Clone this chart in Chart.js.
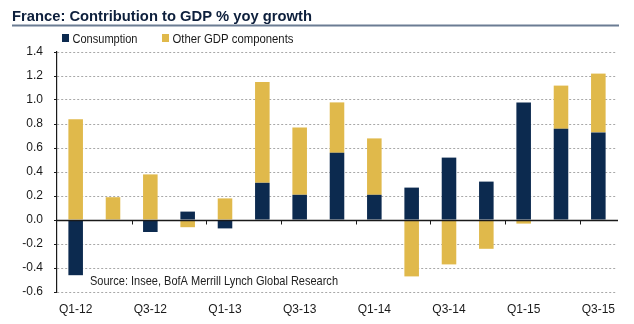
<!DOCTYPE html>
<html>
<head>
<meta charset="utf-8">
<script src="https://cdn.jsdelivr.net/npm/chart.js@4.4.0/dist/chart.umd.min.js"></script>
<style>
  html, body { margin: 0; padding: 0; background: #fff; }
  #wrap { width: 634px; height: 324px; }
</style>
</head>
<body>
<div id="wrap"><canvas id="gdp"></canvas></div>
<script>
// quarters on the x axis, only every other one gets a label
const quarters = ['Q1-12', 'Q2-12', 'Q3-12', 'Q4-12', 'Q1-13', 'Q2-13', 'Q3-13', 'Q4-13',
                  'Q1-14', 'Q2-14', 'Q3-14', 'Q4-14', 'Q1-15', 'Q2-15', 'Q3-15'];
// contributions to yoy GDP growth, pp
const consumption = [-0.46, 0.00, -0.10, 0.07, -0.07, 0.31, 0.21, 0.56,
                     0.21, 0.27, 0.52, 0.32, 0.98, 0.76, 0.73];
const otherComponents = [0.84, 0.19, 0.38, -0.06, 0.18, 0.84, 0.56, 0.42,
                         0.47, -0.47, -0.37, -0.24, -0.03, 0.36, 0.49];
const yTicks = [-0.6, -0.4, -0.2, 0.0, 0.2, 0.4, 0.6, 0.8, 1.0, 1.2, 1.4];

const TITLE = 'France: Contribution to GDP % yoy growth';
const SOURCE = 'Source: Insee, BofA Merrill Lynch Global Research';
const FONT = '"Liberation Sans", Arial, sans-serif';

const NAVY = '#0c2a4f';
const GOLD = '#e0b94b';

// text squeezed sideways to a given width (the house font is a narrow face)
function narrowText(ctx, text, x, y, width) {
  const w = ctx.measureText(text).width;
  ctx.save();
  ctx.translate(x, y);
  ctx.scale(width / w, 1);
  ctx.fillText(text, 0, 0);
  ctx.restore();
}

// title, underline, legend, zero line with its small ticks, source note
const decorations = {
  id: 'decorations',
  afterDraw(chart) {
    const { ctx, chartArea, scales, data } = chart;
    const x = scales.x, y = scales.y;
    ctx.save();
    ctx.textBaseline = 'alphabetic';

    ctx.fillStyle = '#0d1f3c';
    ctx.font = 'bold 15.5px ' + FONT;
    narrowText(ctx, TITLE, 12, 21, 300);

    ctx.strokeStyle = '#6b7c93';
    ctx.lineWidth = 1.8;
    ctx.beginPath();
    ctx.moveTo(12, 25.5);
    ctx.lineTo(619, 25.5);
    ctx.stroke();

    // legend
    const legendX = [62, 162];
    const legendW = [65, 121];
    ctx.font = '13px ' + FONT;
    data.datasets.forEach((ds, i) => {
      ctx.fillStyle = ds.backgroundColor;
      ctx.fillRect(legendX[i], 34, 7, 8);
      ctx.fillStyle = '#1a1a1a';
      narrowText(ctx, ds.label, legendX[i] + 10.5, 42.5, legendW[i]);
    });

    const y0 = Math.round(y.getPixelForValue(0)) + 0.5;
    ctx.strokeStyle = '#1a1a1a';
    ctx.lineWidth = 1.3;
    ctx.beginPath();
    ctx.moveTo(chartArea.left, y0);
    ctx.lineTo(chartArea.right + 1, y0);
    ctx.stroke();

    ctx.lineWidth = 1;
    ctx.beginPath();
    for (let i = 2; i < quarters.length; i += 2) {
      const xm = Math.round((x.getPixelForTick(i - 1) + x.getPixelForTick(i)) / 2) + 0.5;
      ctx.moveTo(xm, y0);
      ctx.lineTo(xm, y0 + 4);
    }
    ctx.stroke();

    ctx.fillStyle = '#222';
    ctx.font = '13.5px ' + FONT;
    narrowText(ctx, SOURCE, 90, 285, 248);
    ctx.restore();
  }
};

new Chart(document.getElementById('gdp'), {
  type: 'bar',
  data: {
    labels: quarters,
    datasets: [
      { label: 'Consumption', data: consumption, backgroundColor: NAVY },
      { label: 'Other GDP components', data: otherComponents, backgroundColor: GOLD }
    ]
  },
  options: {
    responsive: true,
    maintainAspectRatio: false,
    animation: false,
    layout: { padding: { left: 0, right: 17, top: 52, bottom: 0 } },
    datasets: { bar: { categoryPercentage: 1, barPercentage: 0.39 } },
    plugins: {
      title: { display: false },
      tooltip: { enabled: false },
      legend: { display: false }
    },
    scales: {
      x: {
        stacked: true,
        afterFit(scale) { scale.height = 32; },
        grid: { display: false, drawTicks: false },
        border: { display: false },
        ticks: {
          autoSkip: false,
          maxRotation: 0,
          padding: 10,
          color: '#1a1a1a',
          font: { family: FONT, size: 12 },
          callback: (v, i) => (i % 2 === 0 ? quarters[i] : '')
        }
      },
      y: {
        stacked: true,
        min: yTicks[0],
        max: yTicks[yTicks.length - 1],
        afterFit(scale) { scale.width = 57; },
        afterBuildTicks(scale) { scale.ticks = yTicks.map(v => ({ value: v })); },
        grid: {
          color: ctx => (ctx.tick && Math.abs(ctx.tick.value) < 1e-9 ? 'rgba(0,0,0,0)' : '#a8a8a8'),
          lineWidth: 1,
          tickLength: 3,
          tickColor: '#1a1a1a',
          tickBorderDash: []
        },
        border: { display: true, color: '#1a1a1a', width: 1.2, dash: [2, 2] },
        ticks: {
          padding: 11,
          color: '#1a1a1a',
          font: { family: FONT, size: 12 },
          callback: v => Number(v).toFixed(1)
        }
      }
    }
  },
  plugins: [decorations]
});
</script>
</body>
</html>
